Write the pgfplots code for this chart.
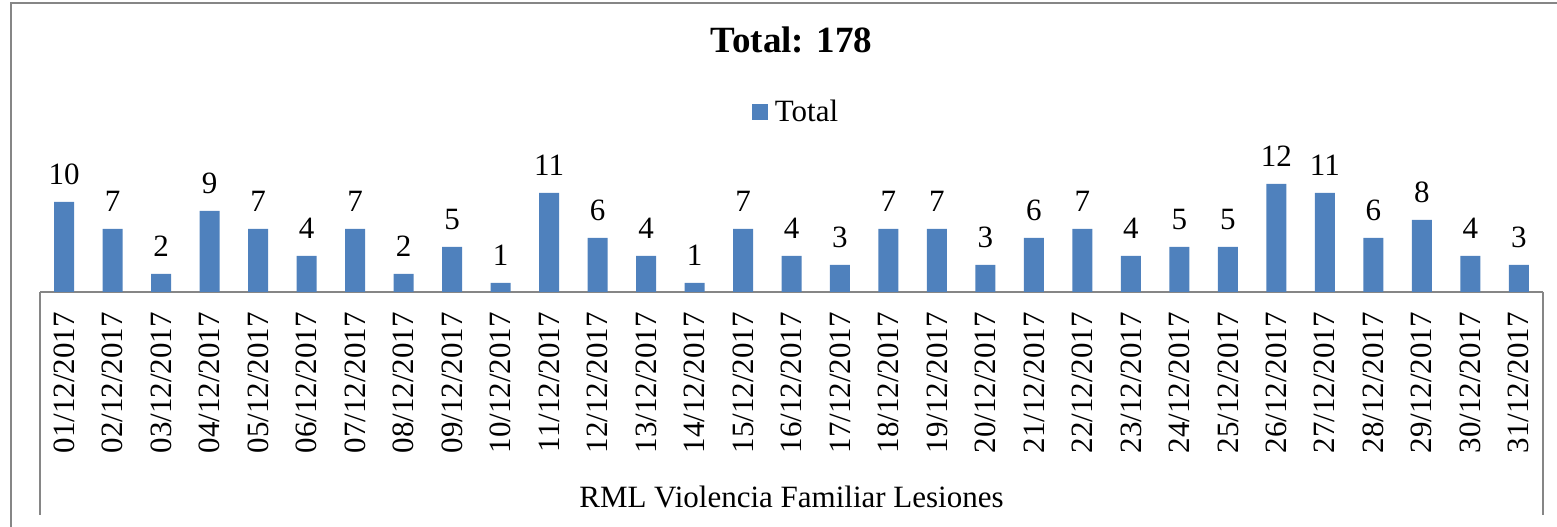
\documentclass[border=0pt]{standalone}
\usepackage{fontspec}
\setmainfont{Liberation Serif}
\usepackage{pgfplots}
\pgfplotsset{compat=1.18}
\definecolor{barblue}{HTML}{4F81BD}
\definecolor{linegray}{HTML}{868686}
\newcommand{\bigf}{\fontsize{31pt}{37pt}\selectfont}
\begin{document}
\begin{tikzpicture}
\useasboundingbox (0,0) rectangle (1557pt,527pt);
\draw[linegray, line width=1.5pt] (11pt,-20pt) |- (1600pt,524pt);
\begin{axis}[
  at={(40pt,235pt)}, anchor=south west,
  scale only axis, width=1503pt, height=126pt,
  clip=false,
  /pgf/number format/assume math mode=true,
  ybar, bar width=20pt,
  xmin=-0.5, xmax=30.5, ymin=0, ymax=14,
  axis x line=bottom, axis y line=none,
  axis line style={-, linegray, line width=1.2pt},
  xtick=data, ytick=\empty,
  major tick length=0pt,
  xticklabels={01/12/2017,02/12/2017,03/12/2017,04/12/2017,05/12/2017,06/12/2017,07/12/2017,08/12/2017,09/12/2017,10/12/2017,11/12/2017,12/12/2017,13/12/2017,14/12/2017,15/12/2017,16/12/2017,17/12/2017,18/12/2017,19/12/2017,20/12/2017,21/12/2017,22/12/2017,23/12/2017,24/12/2017,25/12/2017,26/12/2017,27/12/2017,28/12/2017,29/12/2017,30/12/2017,31/12/2017},
  xticklabel style={rotate=90, anchor=east, inner sep=0pt, font=\bigf},
  xticklabel shift=20pt,
  xlabel={RML Violencia Familiar Lesiones},
  xlabel style={at={(axis description cs:0.5,-1.712)}, anchor=base, font=\bigf, inner sep=0pt},
  title={\textbf{Total: 178}},
  title style={at={(axis description cs:0.5,1.856)}, anchor=base, font=\fontsize{37pt}{44pt}\selectfont, inner sep=0pt},
  nodes near coords,
  every node near coord/.append style={font=\bigf, anchor=south, inner sep=0pt, yshift=17pt},
  legend style={at={(axis description cs:0.503,1.43)}, anchor=center, draw=none, fill=none, font=\bigf, inner sep=0pt},
  legend image code/.code={\fill[barblue] (0pt,-8pt) rectangle (16pt,8pt);},
]
\addplot[fill=barblue, draw=none] coordinates {
(0,10) (1,7) (2,2) (3,9) (4,7) (5,4) (6,7) (7,2) (8,5) (9,1)
(10,11) (11,6) (12,4) (13,1) (14,7) (15,4) (16,3) (17,7) (18,7) (19,3)
(20,6) (21,7) (22,4) (23,5) (24,5) (25,12) (26,11) (27,6) (28,8) (29,4) (30,3)};
\addlegendentry{\hspace{5pt}Total}
\draw[linegray, line width=1.2pt] (axis cs:-0.5,0) -- ([yshift=-223pt]axis cs:-0.5,0);
\draw[linegray, line width=1.2pt] (axis cs:30.5,0) -- ([yshift=-223pt]axis cs:30.5,0);
\end{axis}
\end{tikzpicture}
\end{document}
